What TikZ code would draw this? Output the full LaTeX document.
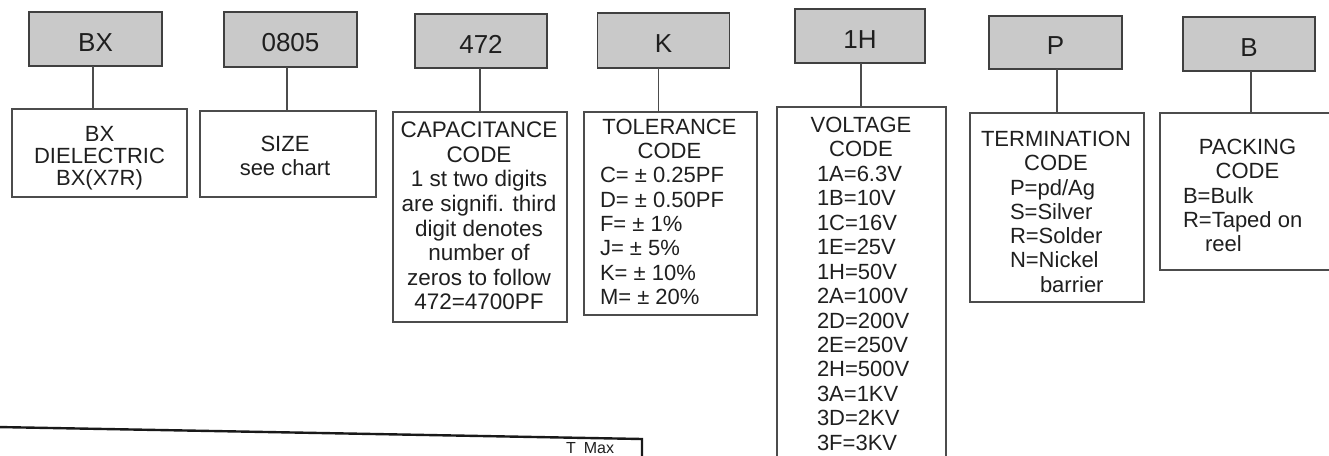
\documentclass[tikz,border=0pt]{standalone}
\usepackage{fontspec}
\setmainfont{Liberation Sans}
\begin{document}
\begin{tikzpicture}[x=1pt,y=-1pt,
  topbox/.style={draw=black!75, line width=1.4pt, fill=black!21, inner sep=0pt, outer sep=0pt,
    text height=24pt, text depth=0pt, font=\fontsize{26}{30}\selectfont, text=black!88},
  lowbox/.style={draw=black!70, line width=1.2pt, inner sep=0pt, outer sep=0pt},
  conn/.style={draw=black!70, line width=1.4pt},
  txt/.style={inner sep=0pt, outer sep=0pt, text=black!88},
  rule/.style={draw=black!90, line width=2.4pt}]
\useasboundingbox (0,0) rectangle (1329,455);
\clip (0,0) rectangle (1329,455);
% top code boxes
\node[topbox, minimum width=133pt, minimum height=54pt] (tBX)   at (95.5,39)   {BX};
\node[topbox, minimum width=133pt, minimum height=55pt] (t0805) at (290.5,39.5) {0805};
\node[topbox, minimum width=132pt, minimum height=54pt] (t472)  at (481,41)    {472};
\node[topbox, minimum width=132pt, minimum height=55pt] (tK)    at (663.5,40.5) {K};
\node[topbox, minimum width=130pt, minimum height=54pt] (t1H)   at (860,36)    {1H};
\node[topbox, minimum width=133pt, minimum height=53pt] (tP)    at (1055.5,42.5) {P};
\node[topbox, minimum width=132pt, minimum height=54pt] (tB)    at (1249,44)   {B};
% description boxes
\node[lowbox, minimum width=175pt, minimum height=88pt]  (dBX)   at (99.5,153)   {};
\node[lowbox, minimum width=176pt, minimum height=86pt]  (dSize) at (288,154)    {};
\node[lowbox, minimum width=174pt, minimum height=210pt] (dCap)  at (480,217)    {};
\node[lowbox, minimum width=173pt, minimum height=203pt] (dTol)  at (670.5,213.5) {};
\node[lowbox, minimum width=169pt, minimum height=373pt] (dVolt) at (861.5,293.5) {};
\node[lowbox, minimum width=174pt, minimum height=189pt] (dTerm) at (1057,207.5) {};
\node[lowbox, minimum width=185pt, minimum height=157pt] (dPack) at (1252.5,191.5) {};
% connectors
\draw[conn] ([xshift=-2.5pt]tBX.south) -- ([xshift=-2.5pt]tBX.south |- dBX.north);
\draw[conn] ([xshift=-3.5pt]t0805.south) -- ([xshift=-3.5pt]t0805.south |- dSize.north);
\draw[conn] ([xshift=-1pt]t472.south) -- ([xshift=-1pt]t472.south |- dCap.north);
\draw[conn] ([xshift=-5pt]tK.south) -- ([xshift=-5pt]tK.south |- dTol.north);
\draw[conn] ([xshift=1pt]t1H.south) -- ([xshift=1pt]t1H.south |- dVolt.north);
\draw[conn] ([xshift=1.5pt]tP.south) -- ([xshift=1.5pt]tP.south |- dTerm.north);
\draw[conn] ([xshift=2pt]tB.south) -- ([xshift=2pt]tB.south |- dPack.north);
% texts
\node[txt, align=center, anchor=north, font=\fontsize{22}{22}\selectfont] (xBX) at (99.5,126)
  {BX\\DIELECTRIC\\BX(X7R)};
\node[txt, align=center, anchor=north, font=\fontsize{22}{24}\selectfont] (xSize) at (285,136)
  {SIZE\\see chart};
\node[txt, align=center, anchor=north, font=\fontsize{22.5}{24.6}\selectfont] (xCap) at (479,122)
  {CAPACITANCE\\CODE\\1 st two digits\\are signifi. third\\digit denotes\\number of\\zeros to follow\\472=4700PF};
\node[txt, align=center, anchor=north, font=\fontsize{22}{24.3}\selectfont] (xTolH) at (669.5,119)
  {TOLERANCE\\CODE};
\node[txt, align=left, anchor=north west, font=\fontsize{22}{24.3}\selectfont] (xTolL) at (600,167.6)
  {C= ± 0.25PF\\D= ± 0.50PF\\F= ± 1\%\\J= ± 5\%\\K= ± 10\%\\M= ± 20\%};
\node[txt, align=center, anchor=north, font=\fontsize{22}{24.46}\selectfont] (xVoltH) at (861,117)
  {VOLTAGE\\CODE};
\node[txt, align=left, anchor=north west, font=\fontsize{22}{24.46}\selectfont] (xVoltL) at (817,165.9)
  {1A=6.3V\\1B=10V\\1C=16V\\1E=25V\\1H=50V\\2A=100V\\2D=200V\\2E=250V\\2H=500V\\3A=1KV\\3D=2KV\\3F=3KV};
\node[txt, align=center, anchor=north, font=\fontsize{22}{24.2}\selectfont] (xTermH) at (1056,131)
  {TERMINATION\\CODE};
\node[txt, align=left, anchor=north west, font=\fontsize{22}{24.2}\selectfont] (xTermL) at (1010,179.4)
  {P=pd/Ag\\S=Silver\\R=Solder\\N=Nickel\\\hspace*{30pt}barrier};
\node[txt, align=center, anchor=north, font=\fontsize{22}{24.25}\selectfont] (xPackH) at (1247.5,139)
  {PACKING\\CODE};
\node[txt, align=left, anchor=north west, font=\fontsize{22}{24.25}\selectfont] (xPackL) at (1183,187.5)
  {B=Bulk\\R=Taped on\\\hspace*{22pt}reel};
% bottom table fragment
\coordinate (L0) at (-3,427);
\coordinate (L1) at (642,439);
\coordinate (L2) at (642,470);
\draw[rule] (L0) -- (L1) -- (L2);
\node[txt, anchor=base west, font=\fontsize{16}{18}\selectfont] (tmax) at (566,453.5) {T\hspace{8pt}Max};
\end{tikzpicture}
\end{document}
